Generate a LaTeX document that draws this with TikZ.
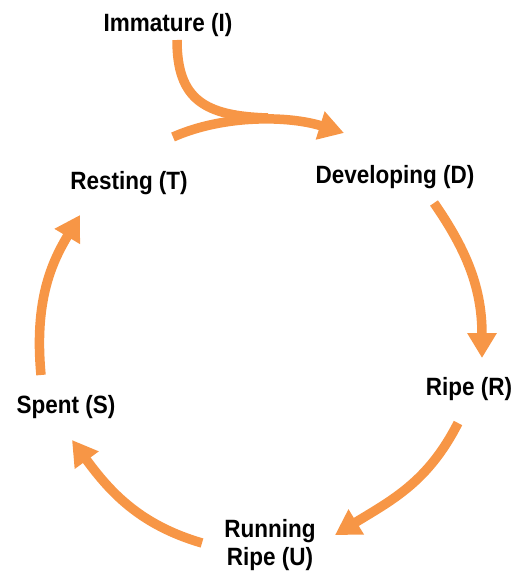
\documentclass[tikz,border=0pt]{standalone}
\usepackage{fontspec}
\setmainfont{Liberation Sans}[FakeStretch=0.9]
\usetikzlibrary{arrows.meta}
\definecolor{cycorange}{HTML}{F79646}
\begin{document}
\begin{tikzpicture}[x=1pt,y=-1pt,
  stage/.style={font=\fontsize{25}{28}\selectfont\bfseries, inner sep=0pt, anchor=base, align=center},
  flow/.style={draw=cycorange, line width=9.5pt, -{Triangle[width=28pt,length=25pt]}},
  flowplain/.style={draw=cycorange, line width=9.5pt}]
\useasboundingbox (0,0) rectangle (517,578);
\node[stage] (I) at (168,31.5) {Immature (I)};
\node[stage] (D) at (395,183) {Developing (D)};
\node[stage] (R) at (469,395) {Ripe (R)};
\node[stage] (U) at (270,565) {Running\\Ripe (U)};
\node[stage] (S) at (66,413) {Spent (S)};
\node[stage] (T) at (129,189) {Resting (T)};
% connector end points
\coordinate (Iout) at (177,40);
\coordinate (merge) at (268,118);
\coordinate (Tout) at (173,137);
\coordinate (Din) at (344,133);
\coordinate (Dout) at (434,203);
\coordinate (Rin) at (482,358);
\coordinate (Rout) at (458,423);
\coordinate (Uin) at (335,535);
\coordinate (Uout) at (202,543);
\coordinate (Sin) at (72,440);
\coordinate (Sout) at (41,375);
\coordinate (Tin) at (80,215);
\draw[flowplain] (Iout) .. controls (177,100) and (205,116) .. (merge);
\draw[flow] (Tout) .. controls (225,114) and (290,116) .. (Din);
\draw[flow] (Dout) .. controls (468,252) and (482,290) .. (Rin);
\draw[flow] (Rout) .. controls (428,482) and (392,500) .. (Uin);
\draw[flow] (Uout) .. controls (140,525) and (110,492) .. (Sin);
\draw[flow] (Sout) .. controls (34,300) and (52,262) .. (Tin);
\end{tikzpicture}
\end{document}
